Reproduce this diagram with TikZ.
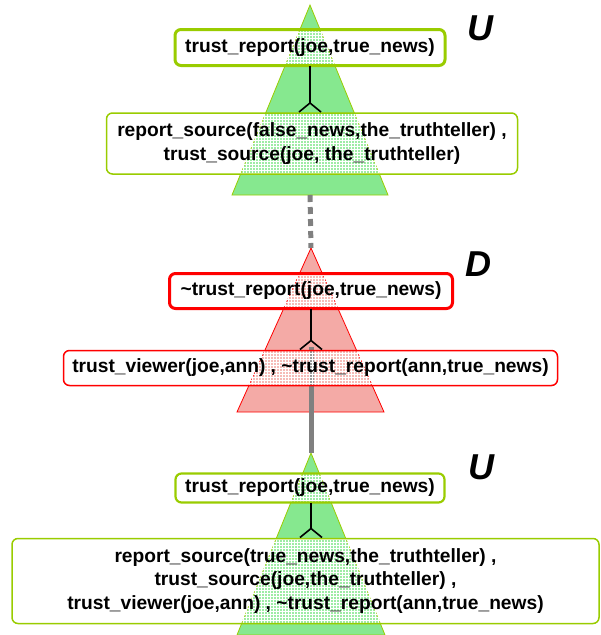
\documentclass[tikz,border=0pt]{standalone}
\usepackage{fontspec}
\setmainfont{Liberation Sans}
\usepackage{tikz}
\usetikzlibrary{shapes,arrows.meta,positioning,patterns}
\definecolor{ugreen}{RGB}{153,204,0}
\definecolor{ufill}{RGB}{134,232,143}
\definecolor{dred}{RGB}{255,0,0}
\definecolor{dfill}{RGB}{244,170,166}
\definecolor{link}{RGB}{128,128,128}
\tikzstyle{clause} = [rectangle, rounded corners=6pt, fill=white, fill opacity=0.2, text opacity=1, align=center, font=\bfseries\fontsize{19.2}{23.5}\selectfont, postaction={pattern=grid, pattern color=white, fill opacity=1}]
\tikzstyle{ugoal} = [clause, postaction={draw=ugreen, line width=3pt}]
\tikzstyle{ubody} = [clause, postaction={draw=ugreen, line width=1.5pt}]
\tikzstyle{dgoal} = [clause, postaction={draw=dred, line width=3pt}]
\tikzstyle{dbody} = [clause, postaction={draw=dred, line width=1.5pt}]
\tikzstyle{fork} = [draw, line width=1.6pt, -{Straight Barb[reversed, length=9pt, width=22pt]}]
\tikzstyle{side} = [font=\bfseries\itshape\fontsize{36}{36}\selectfont]

\begin{document}
\begin{tikzpicture}[x=1pt, y=-1pt]
    \useasboundingbox (0,0) rectangle (601,635);

    % triangles
    \path [fill=ufill, draw=ugreen, line width=0.8pt] (310,5) -- (232,195) -- (388,195) -- cycle;
    \path [fill=dfill, draw=dred, line width=0.8pt] (311,248) -- (237,412) -- (384,412) -- cycle;
    \path [fill=ufill, draw=ugreen, line width=0.8pt] (311,453) -- (237,635) -- (385,635) -- cycle;
    \coordinate (u1base) at (310,195);
    \coordinate (d1top) at (311,248);
    \coordinate (d1link) at (311,347);
    \coordinate (u2top) at (311,453);

    \path [draw=link, line width=5pt, dash pattern=on 7pt off 5pt] (u1base) -- (d1top);
    \path [draw=link, line width=5pt] (d1link) -- (u2top);

    \node [ugoal, minimum width=270pt, minimum height=36pt] (u1goal) at (310,47.5) {trust\_report(joe,true\_news)};
    \node [ubody, minimum width=411pt, minimum height=61pt] (u1body) at (312,143.5) {report\_source(false\_news,the\_truthteller) ,\\trust\_source(joe, the\_truthteller)};
    \node [dgoal, minimum width=283pt, minimum height=35pt] (d1goal) at (311,291) {\textasciitilde trust\_report(joe,true\_news)};
    \node [dbody, minimum width=494pt, minimum height=35pt] (d1body) at (310.5,368) {trust\_viewer(joe,ann) , \textasciitilde trust\_report(ann,true\_news)};
    \node [clause, postaction={draw=ugreen, line width=2.2pt}, minimum width=269pt, minimum height=29pt] (u2goal) at (310,488) {trust\_report(joe,true\_news)};
    \node [ubody, minimum width=587pt, minimum height=85pt] (u2body) at (305.5,581) {report\_source(true\_news,the\_truthteller) ,\\trust\_source(joe,the\_truthteller) ,\\trust\_viewer(joe,ann) , \textasciitilde trust\_report(ann,true\_news)};

    \node [side] (u1tag) at (480,28) {U};
    \node [side] (d1tag) at (478,264) {D};
    \node [side] (u2tag) at (481,467) {U};

    \path [fork] (u1goal.south -| u1base) -- (u1body.north -| u1base);
    \path [fork] (d1goal.south -| d1top) -- (d1body.north -| d1top);
    \path [fork] (u2goal.south -| u2top) -- (u2body.north -| u2top);
\end{tikzpicture}
\end{document}
